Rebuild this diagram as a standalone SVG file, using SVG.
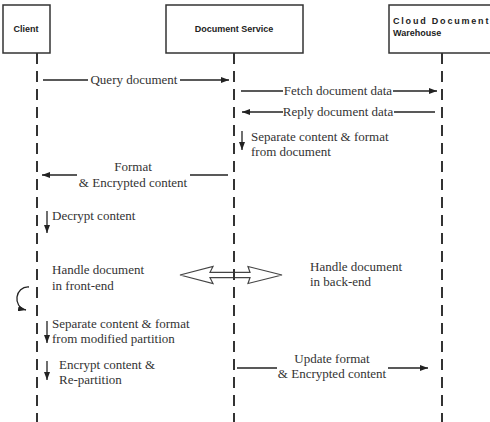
<svg xmlns="http://www.w3.org/2000/svg" width="490" height="422" viewBox="0 0 490 422">
  <style>
    .box { fill: #ffffff; stroke: #333333; stroke-width: 1.5; }
    .hdr { font-family: "Liberation Sans", Arial, sans-serif; font-weight: bold; font-size: 9px; fill: #222222; }
    .life { stroke: #333333; stroke-width: 2; stroke-dasharray: 11 7; fill: none; }
    .msg { stroke: #222222; stroke-width: 1.3; fill: none; }
    .lbl { font-family: "Liberation Serif", "Times New Roman", serif; font-size: 13px; fill: #333333; }
    .mid { text-anchor: middle; }
  </style>
  <defs>
    <marker id="head" viewBox="0 0 8 6" refX="8" refY="3" markerWidth="8" markerHeight="6" markerUnits="userSpaceOnUse" orient="auto">
      <path d="M0,0 L8,3 L0,6 z" fill="#222222"/>
    </marker>
  </defs>

  <rect width="490" height="422" fill="#ffffff"/>

  <!-- participants -->
  <g id="client">
    <rect class="box" x="3" y="5" width="47" height="48"/>
    <text class="hdr mid" x="26" y="32">Client</text>
  </g>
  <g id="document-service">
    <rect class="box" x="166" y="5" width="137" height="48"/>
    <text class="hdr mid" x="234" y="32">Document Service</text>
  </g>
  <g id="cloud-warehouse">
    <rect class="box" x="389" y="5" width="110" height="48"/>
    <text class="hdr" x="393" y="24" letter-spacing="1.8">Cloud Document</text>
    <text class="hdr" x="393" y="36">Warehouse</text>
  </g>

  <!-- lifelines -->
  <g id="lifelines">
    <line class="life" x1="37" y1="53" x2="37" y2="422"/>
    <line class="life" x1="442" y1="53" x2="442" y2="422"/>
  </g>

  <!-- front-end / back-end exchange -->
  <g id="exchange">
    <polygon points="180,275 213,266.5 210,272.3 250,272.3 248,266.5 282,275 248,283.5 250,277.7 210,277.7 213,283.5" fill="#ffffff" stroke="#444444" stroke-width="1.2" stroke-linejoin="miter"/>
  </g>
  <g id="service-lifeline">
    <line class="life" x1="234" y1="53" x2="234" y2="422"/>
  </g>

  <!-- connectors -->
  <g id="connectors">
    <!-- Query document -->
    <line class="msg" x1="43" y1="80" x2="88" y2="80"/>
    <line class="msg" x1="180" y1="80" x2="229" y2="80" marker-end="url(#head)"/>
    <!-- Fetch document data -->
    <line class="msg" x1="241" y1="91" x2="283" y2="91"/>
    <line class="msg" x1="393" y1="91" x2="437" y2="91" marker-end="url(#head)"/>
    <!-- Reply document data -->
    <line class="msg" x1="283" y1="112" x2="242" y2="112" marker-end="url(#head)"/>
    <line class="msg" x1="435" y1="112" x2="394" y2="112"/>
    <!-- Separate content & format from document -->
    <line class="msg" x1="242" y1="131" x2="242" y2="150" marker-end="url(#head)"/>
    <!-- Format & Encrypted content -->
    <line class="msg" x1="77" y1="175" x2="42" y2="175" marker-end="url(#head)"/>
    <line class="msg" x1="228" y1="175" x2="190" y2="175"/>
    <!-- Decrypt content -->
    <line class="msg" x1="47" y1="211" x2="47" y2="233" marker-end="url(#head)"/>
    <!-- self loop -->
    <path class="msg" d="M29,287 C15,286 12,307 26,310" marker-end="url(#head)"/>
    <!-- Separate content & format from modified partition -->
    <line class="msg" x1="47" y1="321" x2="47" y2="343" marker-end="url(#head)"/>
    <!-- Encrypt content & Re-partition -->
    <line class="msg" x1="47" y1="361" x2="47" y2="380" marker-end="url(#head)"/>
    <!-- Update format & Encrypted content -->
    <line class="msg" x1="237" y1="368" x2="277" y2="368"/>
    <line class="msg" x1="388" y1="368" x2="428" y2="368" marker-end="url(#head)"/>
  </g>

  <!-- labels -->
  <g id="labels">
    <text class="lbl mid" x="134" y="84">Query document</text>
    <text class="lbl mid" x="338" y="95">Fetch document data</text>
    <text class="lbl mid" x="338" y="116">Reply document data</text>
    <text class="lbl" x="251" y="141">Separate content &amp; format</text>
    <text class="lbl" x="251" y="156">from document</text>
    <text class="lbl mid" x="133" y="171">Format</text>
    <text class="lbl mid" x="133" y="187">&amp; Encrypted content</text>
    <text class="lbl" x="52" y="220">Decrypt content</text>
    <text class="lbl" x="52" y="274">Handle document</text>
    <text class="lbl" x="52" y="290">in front-end</text>
    <text class="lbl" x="310" y="271">Handle document</text>
    <text class="lbl" x="310" y="286">in back-end</text>
    <text class="lbl" x="52" y="328">Separate content &amp; format</text>
    <text class="lbl" x="52" y="343">from modified partition</text>
    <text class="lbl" x="59" y="369">Encrypt content &amp;</text>
    <text class="lbl" x="59" y="384">Re-partition</text>
    <text class="lbl mid" x="332" y="363">Update format</text>
    <text class="lbl mid" x="332" y="378">&amp; Encrypted content</text>
  </g>
</svg>
